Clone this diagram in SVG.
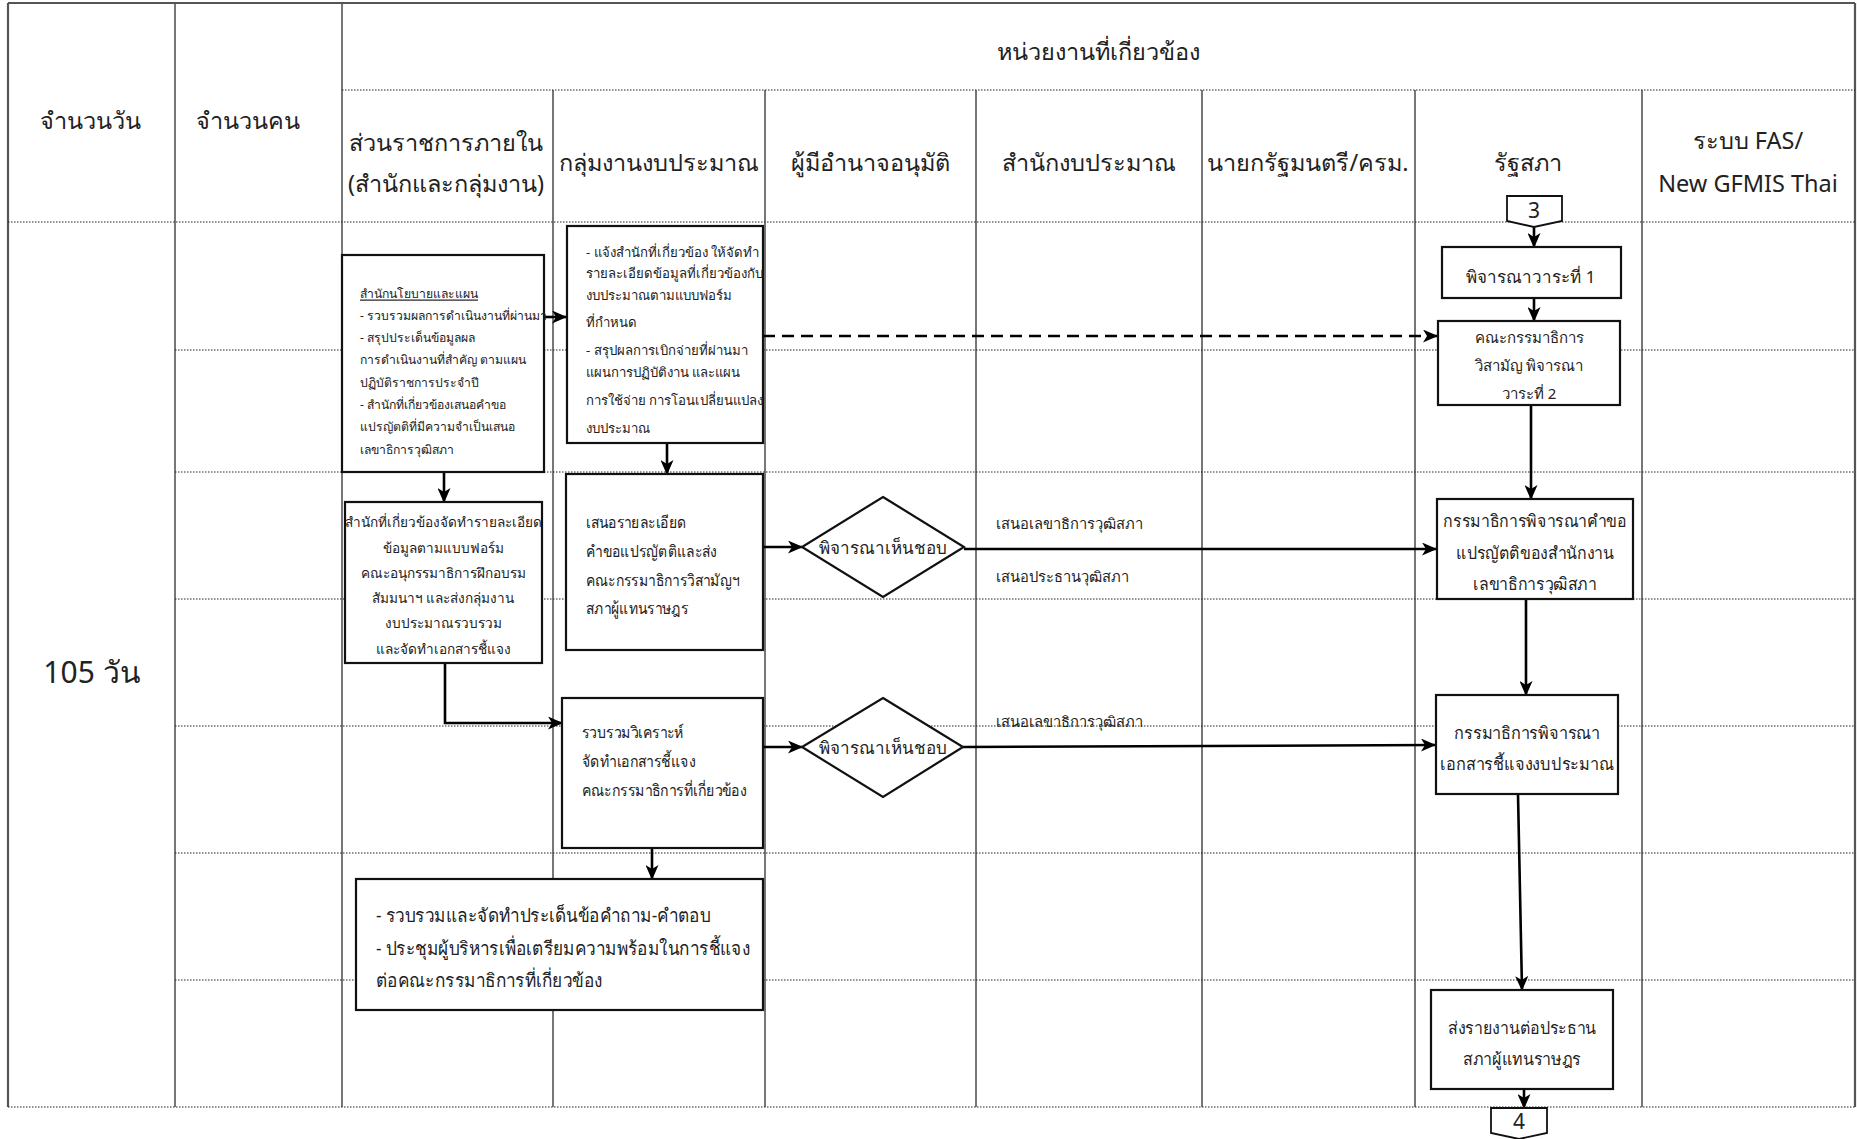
<svg xmlns="http://www.w3.org/2000/svg" width="1857" height="1139" viewBox="0 0 1857 1139">
<style>
text{font-family:"Noto Sans","DejaVu Sans",sans-serif;fill:#222}
.h{font-size:23.5px;text-anchor:middle;dominant-baseline:central}
.vl{stroke:#555;stroke-width:1.6;fill:none}
.ol{stroke:#555;stroke-width:2.2;fill:none}
.dl{stroke:#222;stroke-width:1;stroke-dasharray:1.5 1.5;fill:none}
.box{fill:#fff;stroke:#111;stroke-width:2.2}
.c{stroke:#000;stroke-width:2.6;fill:none}
.t{dominant-baseline:central}
.m{text-anchor:middle;dominant-baseline:central}
</style>
<defs>
<marker id="ah" markerWidth="15" markerHeight="13" refX="14" refY="6.5" orient="auto" markerUnits="userSpaceOnUse">
<path d="M0,0 L15,6.5 L0,13 L4,6.5 z" fill="#000"/>
</marker>
</defs>
<rect x="0" y="0" width="1857" height="1139" fill="#fff"/>
<g id="grid">
<line class="ol" x1="8" y1="3" x2="1855" y2="3"/>
<line class="ol" x1="8" y1="3" x2="8" y2="1107"/>
<line class="ol" x1="1855" y1="3" x2="1855" y2="1107"/>
<line class="vl" x1="175" y1="3" x2="175" y2="1107"/>
<line class="vl" x1="342" y1="3" x2="342" y2="1107"/>
<line class="vl" x1="553" y1="90" x2="553" y2="1107"/>
<line class="vl" x1="765" y1="90" x2="765" y2="1107"/>
<line class="vl" x1="976" y1="90" x2="976" y2="1107"/>
<line class="vl" x1="1202" y1="90" x2="1202" y2="1107"/>
<line class="vl" x1="1415" y1="90" x2="1415" y2="1107"/>
<line class="vl" x1="1642" y1="90" x2="1642" y2="1107"/>
<line class="dl" x1="342" y1="90" x2="1855" y2="90"/>
<line class="dl" x1="8" y1="222" x2="1855" y2="222"/>
<line class="dl" x1="175" y1="350" x2="1855" y2="350"/>
<line class="dl" x1="175" y1="472" x2="1855" y2="472"/>
<line class="dl" x1="175" y1="599" x2="1855" y2="599"/>
<line class="dl" x1="175" y1="726" x2="1855" y2="726"/>
<line class="dl" x1="175" y1="853" x2="1855" y2="853"/>
<line class="dl" x1="175" y1="980" x2="1855" y2="980"/>
<line class="dl" x1="8" y1="1107" x2="1855" y2="1107"/>
</g>
<g id="headers">
<text class="h" x="90" y="120">จำนวนวัน</text>
<text class="h" x="248" y="120">จำนวนคน</text>
<text class="h" x="1098" y="51">หน่วยงานที่เกี่ยวข้อง</text>
<text class="h" x="446" y="142">ส่วนราชการภายใน</text>
<text class="h" x="446" y="183">(สำนักและกลุ่มงาน)</text>
<text class="h" x="659" y="162">กลุ่มงานงบประมาณ</text>
<text class="h" x="870" y="162">ผู้มีอำนาจอนุมัติ</text>
<text class="h" x="1089" y="162">สำนักงบประมาณ</text>
<text class="h" x="1308" y="162">นายกรัฐมนตรี/ครม.</text>
<text class="h" x="1528" y="162">รัฐสภา</text>
<text class="h" x="1748" y="140">ระบบ FAS/</text>
<text class="h" x="1748" y="183">New GFMIS Thai</text>
<text class="h" x="92" y="671" style="font-size:30px">105 วัน</text>
</g>
<g id="connectors">
<line class="c" x1="544" y1="317" x2="566" y2="317" marker-end="url(#ah)"/>
<line class="c" x1="667" y1="443" x2="667" y2="474" marker-end="url(#ah)"/>
<line class="c" x1="763" y1="336" x2="1437" y2="336" stroke-dasharray="12 7" marker-end="url(#ah)"/>
<line class="c" x1="444" y1="472" x2="444" y2="502" marker-end="url(#ah)"/>
<polyline class="c" points="445,663 445,723 562,723" marker-end="url(#ah)"/>
<line class="c" x1="763" y1="547" x2="802" y2="547" marker-end="url(#ah)"/>
<line class="c" x1="964" y1="549" x2="1436" y2="549" marker-end="url(#ah)"/>
<line class="c" x1="763" y1="747" x2="802" y2="747" marker-end="url(#ah)"/>
<line class="c" x1="963" y1="747" x2="1435" y2="745" marker-end="url(#ah)"/>
<line class="c" x1="652" y1="848" x2="652" y2="879" marker-end="url(#ah)"/>
<line class="c" x1="1534" y1="226" x2="1534" y2="247" marker-end="url(#ah)"/>
<line class="c" x1="1534" y1="298" x2="1534" y2="321" marker-end="url(#ah)"/>
<line class="c" x1="1531" y1="405" x2="1531" y2="499" marker-end="url(#ah)"/>
<line class="c" x1="1526" y1="599" x2="1526" y2="695" marker-end="url(#ah)"/>
<line class="c" x1="1518" y1="794" x2="1522" y2="990" marker-end="url(#ah)"/>
<line class="c" x1="1524" y1="1089" x2="1524" y2="1108" marker-end="url(#ah)"/>
<text class="t" x="996" y="523" style="font-size:14.7px">เสนอเลขาธิการวุฒิสภา</text>
<text class="t" x="996" y="576" style="font-size:14.7px">เสนอประธานวุฒิสภา</text>
<text class="t" x="996" y="721" style="font-size:14.7px">เสนอเลขาธิการวุฒิสภา</text>
</g>
<g id="nodeA">
<rect class="box" x="342" y="255" width="202" height="217"/>
<g style="font-size:12.2px">
<text class="t" x="360" y="293" text-decoration="underline">สำนักนโยบายและแผน</text>
<text class="t" x="360" y="315.3">- รวบรวมผลการดำเนินงานที่ผ่านมา</text>
<text class="t" x="360" y="337.6">- สรุปประเด็นข้อมูลผล</text>
<text class="t" x="360" y="359.9">การดำเนินงานที่สำคัญ ตามแผน</text>
<text class="t" x="360" y="382.2">ปฏิบัติราชการประจำปี</text>
<text class="t" x="360" y="404.5">- สำนักที่เกี่ยวข้องเสนอคำขอ</text>
<text class="t" x="360" y="426.8">แปรญัตติที่มีความจำเป็นเสนอ</text>
<text class="t" x="360" y="449.1">เลขาธิการวุฒิสภา</text>
</g>
</g>
<g id="nodeB">
<rect class="box" x="567" y="226" width="196" height="217"/>
<g style="font-size:13.2px">
<text class="t" x="586" y="251.7">- แจ้งสำนักที่เกี่ยวข้อง ให้จัดทำ</text>
<text class="t" x="586" y="273.3">รายละเอียดข้อมูลที่เกี่ยวข้องกับ</text>
<text class="t" x="586" y="295">งบประมาณตามแบบฟอร์ม</text>
<text class="t" x="586" y="321.7">ที่กำหนด</text>
<text class="t" x="586" y="350">- สรุปผลการเบิกจ่ายที่ผ่านมา</text>
<text class="t" x="586" y="371.7">แผนการปฏิบัติงาน และแผน</text>
<text class="t" x="586" y="400">การใช้จ่าย การโอนเปลี่ยนแปลง</text>
<text class="t" x="586" y="428.3">งบประมาณ</text>
</g>
</g>
<g id="nodeC">
<rect class="box" x="345" y="502" width="197" height="161"/>
<g style="font-size:13.6px">
<text class="m" x="443" y="521.7">สำนักที่เกี่ยวข้องจัดทำรายละเอียด</text>
<text class="m" x="443" y="547">ข้อมูลตามแบบฟอร์ม</text>
<text class="m" x="443" y="572.3">คณะอนุกรรมาธิการฝึกอบรม</text>
<text class="m" x="443" y="597.6">สัมมนาฯ และส่งกลุ่มงาน</text>
<text class="m" x="443" y="622.9">งบประมาณรวบรวม</text>
<text class="m" x="443" y="648.2">และจัดทำเอกสารชี้แจง</text>
</g>
</g>
<g id="nodeD">
<rect class="box" x="566" y="474" width="197" height="176"/>
<g style="font-size:16px" transform="translate(586,0) scale(0.87,1) translate(-586,0)">
<text class="t" x="586" y="521.7">เสนอรายละเอียด</text>
<text class="t" x="586" y="550.5">คำขอแปรญัตติและส่ง</text>
<text class="t" x="586" y="579.3">คณะกรรมาธิการวิสามัญฯ</text>
<text class="t" x="586" y="608.1">สภาผู้แทนราษฎร</text>
</g>
</g>
<g id="nodeE">
<rect class="box" x="562" y="698" width="201" height="150"/>
<g style="font-size:16px" transform="translate(582,0) scale(0.88,1) translate(-582,0)">
<text class="t" x="582" y="732">รวบรวมวิเคราะห์</text>
<text class="t" x="582" y="761">จัดทำเอกสารชี้แจง</text>
<text class="t" x="582" y="790">คณะกรรมาธิการที่เกี่ยวข้อง</text>
</g>
</g>
<g id="nodeF">
<rect class="box" x="356" y="879" width="407" height="131"/>
<g style="font-size:19px" transform="translate(376,0) scale(0.905,1) translate(-376,0)">
<text class="t" x="376" y="915">- รวบรวมและจัดทำประเด็นข้อคำถาม-คำตอบ</text>
<text class="t" x="376" y="948">- ประชุมผู้บริหารเพื่อเตรียมความพร้อมในการชี้แจง</text>
<text class="t" x="376" y="980">ต่อคณะกรรมาธิการที่เกี่ยวข้อง</text>
</g>
</g>
<g id="diamond1">
<polygon class="box" points="883,497 964,547 883,597 802,547"/>
<text class="m" x="883" y="547" style="font-size:17px">พิจารณาเห็นชอบ</text>
</g>
<g id="diamond2">
<polygon class="box" points="883,698 963,747 883,797 802,747"/>
<text class="m" x="883" y="747" style="font-size:17px">พิจารณาเห็นชอบ</text>
</g>
<g id="conn3">
<polygon class="box" points="1507,196 1562,196 1562,221 1534,227 1507,221" style="stroke-width:1.8"/>
<text class="m" x="1534" y="210" style="font-size:21px">3</text>
</g>
<g id="box1">
<rect class="box" x="1442" y="247" width="179" height="51"/>
<text class="m" x="1531" y="276" style="font-size:17px">พิจารณาวาระที่ 1</text>
</g>
<g id="box2">
<rect class="box" x="1438" y="321" width="182" height="84"/>
<g style="font-size:15px">
<text class="m" x="1529" y="337">คณะกรรมาธิการ</text>
<text class="m" x="1529" y="365">วิสามัญ พิจารณา</text>
<text class="m" x="1529" y="393">วาระที่ 2</text>
</g>
</g>
<g id="boxG">
<rect class="box" x="1437" y="499" width="196" height="100"/>
<g style="font-size:17px" transform="translate(1535,0) scale(0.935,1) translate(-1535,0)">
<text class="m" x="1535" y="520">กรรมาธิการพิจารณาคำขอ</text>
<text class="m" x="1535" y="552">แปรญัตติของสำนักงาน</text>
<text class="m" x="1535" y="583">เลขาธิการวุฒิสภา</text>
</g>
</g>
<g id="boxH">
<rect class="box" x="1436" y="695" width="182" height="99"/>
<g style="font-size:17px" transform="translate(1527,0) scale(0.957,1) translate(-1527,0)">
<text class="m" x="1527" y="732">กรรมาธิการพิจารณา</text>
<text class="m" x="1527" y="763">เอกสารชี้แจงงบประมาณ</text>
</g>
</g>
<g id="boxI">
<rect class="box" x="1431" y="990" width="182" height="99"/>
<g style="font-size:17px" transform="translate(1522,0) scale(0.94,1) translate(-1522,0)">
<text class="m" x="1522" y="1027">ส่งรายงานต่อประธาน</text>
<text class="m" x="1522" y="1058">สภาผู้แทนราษฎร</text>
</g>
</g>
<g id="conn4">
<polygon class="box" points="1491,1108 1547,1108 1547,1133 1519,1139 1491,1133" style="stroke-width:1.8"/>
<text class="m" x="1519" y="1121" style="font-size:21px">4</text>
</g>
</svg>
